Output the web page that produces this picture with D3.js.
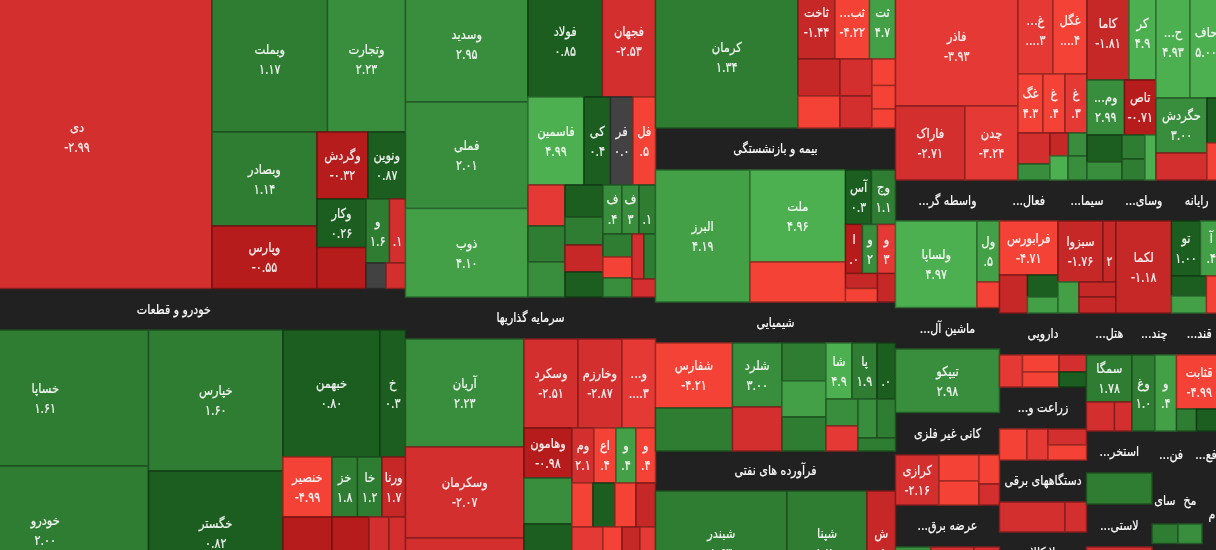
<!DOCTYPE html>
<html lang="fa"><head><meta charset="utf-8">
<script src="https://cdn.jsdelivr.net/npm/d3@7/dist/d3.min.js"></script>
<style>
html,body{margin:0;padding:0;background:#212121;overflow:hidden}
svg{display:block;filter:blur(.35px)}
text{font-family:"DejaVu Sans","Noto Sans",sans-serif;fill:#fff;text-anchor:middle;dominant-baseline:central;stroke:#fff;stroke-width:.22px}
</style></head><body><div id="chart"></div>
<script>
// Parallel arrays, one entry per tile, in reading order of the nesting below.
// A null change marks a sector title band (or an empty band when the name is blank).
const symbols = [
 'دی','وبملت','وتجارت','وبصادر','وپارس','وگردش','ونوین','وکار','','و','','','',
 'خودرو و قطعات','خساپا','خودرو','خپارس','خگستر','خبهمن','خ','خنصیر','خز','خا','ورنا','','','','',
 'وسدید','فملی','ذوب','فولاد','فجهان','فاسمین','کی','فر','فل','','','','','','','','ف','ف','','','','','','','',
 'سرمایه گذاریها','آریان','وسکرمان','','وسکرد','وخارزم','و...','وهامون','','','وم','اع','و','و','','','','','','','','',
 'کرمان','ثاخت','ثب...','ثت','','','','','','','',
 'بیمه و بازنشستگی','البرز','ملت','','آس','وج','ا','و','و','','','',
 'شیمیایی','شفارس','','شلرد','','','','','شا','پا','','','','','','',
 'فرآورده های نفتی','شبندر','شپنا','ش',
 'فاذر','فاراک','چدن','غ...','غگل','غگ','غ','غ','','','','','','',
 'کاما','کر','وم...','تاص','','','','','','ح...','حاف','حگردش','','','',
 'واسطه گر...','ولساپا','ول','','ماشین آل...','تیپکو','کانی غیر فلزی','کرازی','','','','','عرضه برق...','','','',
 'فعال...','فرابورس','','','','سیما...','سبزوا','','','','','وسای...','لکما','رایانه','تو','آ','','','',
 'دارویی','','','','','','زراعت و...','','','','','دستگاههای برقی','','','لا کالا','',
 'هتل...','سمگا','','','چند...','وغ','و','قند...','قثابت','','',
 'استخر...','','لاستی...','','فن...','فع...','سای','','','مخ','','','م',''
];
const valueLabels = [
 '-۲.۹۹','۱.۱۷','۲.۲۳','۱.۱۴','-۰.۵۵','-۰.۳۲','۰.۸۷','۰.۲۶','','۱.۶','.۱','','',
 '','۱.۶۱','۲.۰۰','۱.۶۰','۰.۸۲','۰.۸۰','۰.۳','-۴.۹۹','۱.۸','۱.۲','۱.۷','','','','',
 '۲.۹۵','۲.۰۱','۴.۱۰','۰.۸۵','-۲.۵۳','۴.۹۹','۰.۴','۰.۰','.۵','','','','','','','','.۴','۳','.۱','','','','','','',
 '','۲.۲۳','-۲.۰۷','','-۲.۵۱','-۲.۸۷','....۳','-۰.۹۸','','','۲.۱','.۴','.۴','.۴','','','','','','','','',
 '۱.۳۴','-۱.۴۴','-۴.۲۲','۴.۷','','','','','','','',
 '','۴.۱۹','۴.۹۶','','۰.۳','۱.۱','.۰','۲','۳','','','',
 '','-۴.۲۱','','۳.۰۰','','','','','۴.۹','۱.۹','.۰','','','','','',
 '','۱.۶۳','۱.۷۰','.۵',
 '-۳.۹۳','-۲.۷۱','-۳.۲۴','....۳','....۴','۴.۳','.۴','.۳','','','','','','',
 '-۱.۸۱','۴.۹','۲.۹۹','-۰.۷۱','','','','','','۴.۹۳','۵.۰۰','۳.۰۰','','','',
 '','۴.۹۷','.۵','','','۲.۹۸','','-۲.۱۶','','','','','','','','',
 '','-۴.۷۱','','','','','-۱.۷۶','۲','','','','','-۱.۱۸','','۱.۰۰','.۴','','','',
 '','','','','','','','','','','','','','','','',
 '','۱.۷۸','','','','۱.۰','.۴','','-۴.۹۹','','',
 '','','','','','','','','','','','',''
];
const changes = [
 -2.99,1.17,2.23,1.14,-.55,-.32,.87,.26,-.9,1.6,-2.1,0,-2.5,
 null,1.61,2,1.6,.82,.8,.3,-4.99,1.8,1.2,-1.7,-.9,-.9,-2.5,-2.5,
 2.95,2.01,4.1,.85,-2.53,4.99,.4,0,-4.5,-3.5,1.5,3,.5,1.5,-1.5,.5,3.4,3,1.1,1.5,-4.5,2.5,-2.5,1.5,-2.5,
 null,2.23,-2.07,-2.5,-2.51,-2.87,-3.5,-.98,2.5,.5,-2.1,-4.4,4.4,-4.4,-4.5,.5,-4.5,-1.5,-3.5,-4.5,-1.5,-4,
 1.34,-1.44,-4.22,4.7,-1.5,-4.5,-2.5,-2.5,-4.5,-4.5,-4.5,
 null,4.19,4.96,-4.5,.3,1.1,-1,2.5,-3.5,-1.5,-4.5,-2,
 null,-4.21,1.8,3,-2.5,1.5,4.5,1.8,4.9,1.9,.5,2.5,-4,2.5,1.5,1.5,
 null,1.63,1.7,-1.5,
 -3.93,-2.71,-3.24,-3.5,-4.5,-4.3,-4.4,-3.3,-3,2.5,-1.5,2.5,4.9,3,
 -1.81,4.9,2.99,-.71,.5,2.5,1.5,1.5,4.9,4.93,5,3,-3,.5,-4.5,
 null,4.97,4.5,-4.5,null,2.98,null,-2.16,-4.5,-4.5,-4.5,-3,null,2.5,-2.5,-2.5,
 null,-4.71,-1.5,.5,4,null,-1.76,-1.7,4.5,-2,-2,null,-1.18,null,1,4.4,.5,4.5,-4.5,
 null,-3.5,-4.5,-4.5,-3,.5,null,-4.5,-3.5,-3,-4.5,null,-2.5,-3,null,null,
 null,1.78,-3,-2.5,null,1.05,4.4,null,-4.99,1.5,.5,
 null,1.5,null,-3,null,null,null,1.5,null,null,3,null,null,null
];
const tileSizes = [
 81675,16863,11388,9870,6563,3417,2513,2377,2009,1504,1024,510,497,
 19235,28084,26639,18965,16678,12319,3239,2940,1530,1470,1410,3822,2886,1560,1287,
 14210,13046,10841,8270,5883,4928,2332,1980,1980,1517,1332,1295,1216,1064,1026,950,931,833,809,667,609,551,540,518,423,
 10500,12798,10784,6755,4806,3916,2982,2400,2208,3408,1210,1210,1100,1073,924,968,924,858,2108,1292,1224,1054,
 20235,2701,2519,1898,1554,1344,1184,1024,623,552,447,
 10080,12474,8786,3820,1417,1308,833,735,882,480,432,513,
 9840,5005,3311,3168,2178,1672,1584,1496,1456,1400,1036,864,800,741,722,488,
 9600,13676,8320,2964,
 14700,5143,3922,3080,2992,1475,1298,1298,992,512,426,426,432,456,
 3948,2538,2063,1733,945,630,552,483,495,3808,3584,2805,1377,675,555,
 4264,7050,1373,574,4316,6604,4420,2175,1040,960,595,430,4368,1704,2064,1224,
 2399,3159,1064,671,488,2378,2745,793,651,555,592,2276,5106,2071,1595,1183,700,595,574,
 3654,736,621,548,468,412,3654,852,651,616,578,3654,1965,645,3654,1827,
 1911,2139,812,508,1869,1748,1634,1911,2457,440,561,
 2751,2031,2817,3144,1786,1504,1196,507,1339,1104,468,1236,1480,860
];
const colorBreaks = [-4,-3,-2,-1,-.001,.001,1.01,2.005,4,4.9];
const colorSteps = ['#f44336','#e53935','#d32f2f','#c62828','#b71c1c','#424242','#1b5e20','#2e7d32','#388e3c','#43a047','#4caf50'];

// Nesting of the tiles: D = side by side, S = stacked, L() = next tile.
const D=(...c)=>({dir:'dice',children:c}), S=(...c)=>({dir:'slice',children:c}), L=()=>({});
const LL=n=>Array.from({length:n},L);
const nesting = D(
 S(
  D(L(),S(D(...LL(2)),D(S(...LL(2)),S(D(...LL(2)),D(S(...LL(2)),S(D(...LL(2)),D(...LL(2)))))))),
  L(),
  D(S(...LL(2)),S(...LL(2)),S(D(...LL(2)),D(...LL(4)),D(...LL(4))))
 ),
 S(
  D(S(...LL(3)),S(D(...LL(2)),D(...LL(4)),D(S(...LL(3)),S(...LL(4)),S(D(...LL(3)),D(S(...LL(3)),S(D(...LL(2)),L())))))),
  L(),
  D(S(...LL(3)),S(D(...LL(3)),D(S(...LL(3)),S(D(...LL(4)),D(...LL(4)),D(...LL(4))))))
 ),
 S(
  D(L(),S(D(...LL(3)),D(S(...LL(2)),S(...LL(2)),S(...LL(3))))),
  L(),
  D(L(),S(...LL(2)),S(D(...LL(2)),D(...LL(3)),D(S(...LL(2)),L()))),
  L(),
  D(S(...LL(2)),S(...LL(2)),S(...LL(3)),S(D(...LL(3)),D(S(...LL(2)),S(D(...LL(2)),L())))),
  L(),
  D(...LL(3))
 ),
 S(
  D(
   S(L(),D(...LL(2))),
   S(D(...LL(2)),D(...LL(3)),D(S(...LL(2)),S(D(...LL(2)),D(...LL(2))))),
   S(D(...LL(2)),D(...LL(2)),D(S(...LL(2)),S(...LL(2)),L())),
   S(D(...LL(2)),D(S(...LL(2)),S(...LL(2))))
  ),
  D(
   S(L(),D(L(),S(...LL(2))),L(),L(),L(),D(L(),S(...LL(2)),S(...LL(2))),L(),D(...LL(3))),
   S(
    D(
     S(L(),S(L(),D(L(),S(...LL(2))))),
     S(L(),S(D(...LL(2)),D(L(),S(...LL(2))))),
     S(...LL(2)),
     S(L(),S(D(...LL(2)),D(S(...LL(2)),L())))
    ),
    D(
     S(L(),D(L(),S(...LL(2)),S(...LL(2))),L(),D(L(),L(),S(...LL(2))),L(),D(...LL(2)),L(),L()),
     S(
      D(
       S(L(),S(L(),D(...LL(2)))),
       S(L(),D(...LL(2))),
       S(L(),S(L(),D(...LL(2))))
      ),
      D(
       S(...LL(4)),
       S(D(...LL(2)),D(S(...LL(3)),S(...LL(3)),S(...LL(2))))
      )
     )
    )
   )
  )
 )
);

// The picture shows a crop of a larger treemap: it runs past the left, top, right and bottom edges.
const W=1216,H=550,rootWidth=1280,rootHeight=609,rootLeft=-58,rootTop=-14;
const root=d3.hierarchy(nesting,d=>d.children);
const tiles=root.leaves();
tiles.forEach((l,i)=>l.data.i=i);
root.sum(d=>d.children?0:tileSizes[d.i]);
d3.treemap().size([rootWidth,rootHeight]).round(false)
  .tile((n,x0,y0,x1,y1)=>(n.data.dir==='dice'?d3.treemapDice:d3.treemapSlice)(n,x0,y0,x1,y1))(root);

const color=d3.scaleThreshold().domain(colorBreaks).range(colorSteps);
const svg=d3.select('#chart').append('svg').attr('width',W).attr('height',H);
svg.append('rect').attr('width',W).attr('height',H).attr('fill','#212121');
const g=svg.append('g').attr('transform',`translate(${rootLeft},${rootTop})`);

const cell=g.selectAll('g.t').data(tiles).join('g').attr('class','t');
cell.filter(d=>changes[d.data.i]!==null).append('rect')
  .attr('x',d=>d.x0).attr('y',d=>d.y0)
  .attr('width',d=>d.x1-d.x0).attr('height',d=>d.y1-d.y0)
  .attr('fill',d=>color(changes[d.data.i]))
  .attr('stroke',d=>d3.color(color(changes[d.data.i])).darker(1.3))
  .attr('stroke-width',1.4);

const place=(sel,dy,sx)=>sel.attr('transform',d=>`translate(${(d.x0+d.x1)/2},${(d.y0+d.y1)/2+dy}) scale(${sx},1)`);
// Sector titles
place(cell.filter(d=>changes[d.data.i]===null&&symbols[d.data.i]).append('text'),0,.82)
  .attr('direction','rtl').style('unicode-bidi','plaintext').attr('font-size',13.5)
  .text(d=>symbols[d.data.i]);
// Tile name and change
const labelled=cell.filter(d=>changes[d.data.i]!==null);
place(labelled.filter(d=>symbols[d.data.i]).append('text'),-10,.85)
  .attr('direction','rtl').style('unicode-bidi','plaintext').attr('font-size',13.5).attr('fill-opacity',.92)
  .text(d=>symbols[d.data.i]);
place(labelled.filter(d=>valueLabels[d.data.i]).append('text'),10,.8)
  .attr('direction','ltr').attr('font-size',14).attr('fill-opacity',.92)
  .text(d=>valueLabels[d.data.i]);
</script></body></html>
